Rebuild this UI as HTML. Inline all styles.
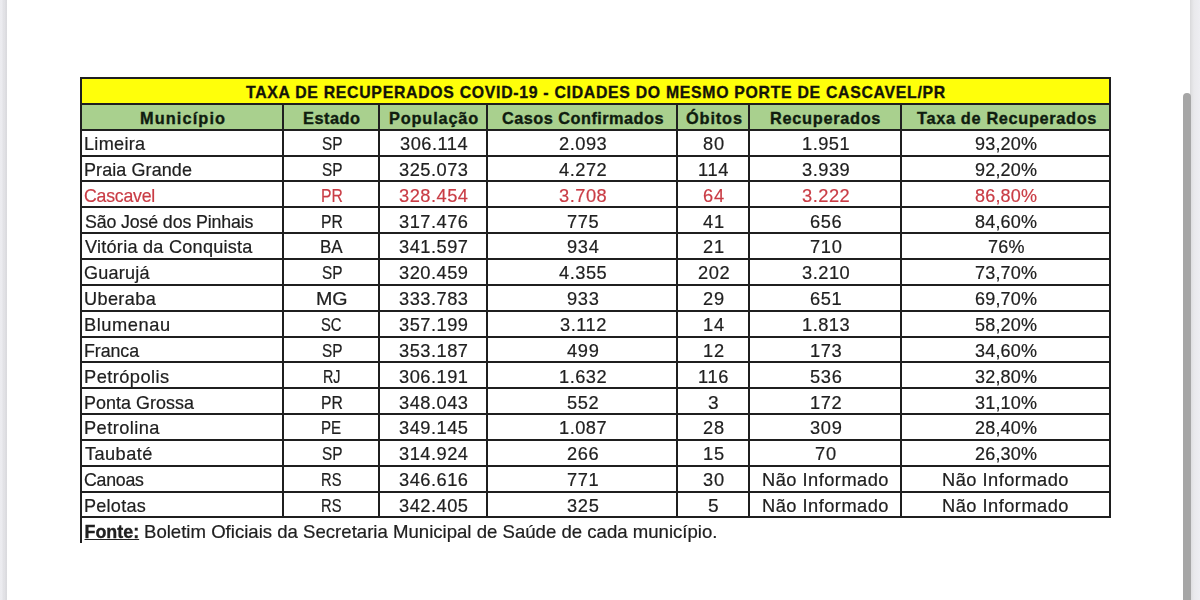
<!DOCTYPE html><html><head><meta charset="utf-8"><style>
html,body{margin:0;padding:0;width:1200px;height:600px;overflow:hidden;background:#ffffff;}
body{position:relative;font-family:"Liberation Sans",sans-serif;}
#w{position:absolute;left:0;top:0;width:1200px;height:600px;filter:blur(0.35px);}
.a{position:absolute;}
.l{position:absolute;background:#1f1f1f;}
.t{position:absolute;white-space:nowrap;font-size:17px;line-height:20px;height:20px;color:#202020;}
.c{transform-origin:50% 0;}
.t{-webkit-text-stroke:0.2px currentColor;}
.b{font-weight:bold;-webkit-text-stroke:0.35px currentColor;}
</style></head><body><div id="w">

<div class="a" style="left:0;top:0;width:7px;height:600px;background:linear-gradient(to right,#ececf0 0px,#ebebef 2px,#e3e3e7 3px,#e1e1e5 5px,#d9d9dd 6px,#dcdce0 7px)"></div>
<div class="a" style="left:1190px;top:0;width:10px;height:600px;background:linear-gradient(to right,#d9d9db 0px,#e2e2e4 2px,#e9e9ec 4px,#eeeef2 10px)"></div>
<div class="a" style="left:1182.5px;top:93px;width:8.5px;height:520px;background:#a6a6a6;border-radius:4.25px"></div>
<div class="a" style="left:81.0px;top:78.0px;width:1028.5px;height:25.9px;background:#ffff0a"></div>
<div class="a" style="left:81.0px;top:103.8px;width:1028.5px;height:25.9px;background:#a9d08e"></div>
<div class="l" style="left:80.0px;top:77.00px;width:1030.5px;height:2.0px"></div>
<div class="l" style="left:80.0px;top:102.85px;width:1030.5px;height:2.0px"></div>
<div class="l" style="left:80.0px;top:128.70px;width:1030.5px;height:2.0px"></div>
<div class="l" style="left:80.0px;top:154.55px;width:1030.5px;height:2.0px"></div>
<div class="l" style="left:80.0px;top:180.40px;width:1030.5px;height:2.0px"></div>
<div class="l" style="left:80.0px;top:206.25px;width:1030.5px;height:2.0px"></div>
<div class="l" style="left:80.0px;top:232.10px;width:1030.5px;height:2.0px"></div>
<div class="l" style="left:80.0px;top:257.95px;width:1030.5px;height:2.0px"></div>
<div class="l" style="left:80.0px;top:283.80px;width:1030.5px;height:2.0px"></div>
<div class="l" style="left:80.0px;top:309.65px;width:1030.5px;height:2.0px"></div>
<div class="l" style="left:80.0px;top:335.50px;width:1030.5px;height:2.0px"></div>
<div class="l" style="left:80.0px;top:361.35px;width:1030.5px;height:2.0px"></div>
<div class="l" style="left:80.0px;top:387.20px;width:1030.5px;height:2.0px"></div>
<div class="l" style="left:80.0px;top:413.05px;width:1030.5px;height:2.0px"></div>
<div class="l" style="left:80.0px;top:438.90px;width:1030.5px;height:2.0px"></div>
<div class="l" style="left:80.0px;top:464.75px;width:1030.5px;height:2.0px"></div>
<div class="l" style="left:80.0px;top:490.60px;width:1030.5px;height:2.0px"></div>
<div class="l" style="left:80.0px;top:516.45px;width:1030.5px;height:2.0px"></div>
<div class="l" style="left:80.0px;top:77.00px;width:2.0px;height:466.30px"></div>
<div class="l" style="left:1108.5px;top:77.00px;width:2.0px;height:441.45px"></div>
<div class="l" style="left:282.0px;top:103.85px;width:2.0px;height:413.60px"></div>
<div class="l" style="left:378.0px;top:103.85px;width:2.0px;height:413.60px"></div>
<div class="l" style="left:486.0px;top:103.85px;width:2.0px;height:413.60px"></div>
<div class="l" style="left:675.5px;top:103.85px;width:2.0px;height:413.60px"></div>
<div class="l" style="left:748.0px;top:103.85px;width:2.0px;height:413.60px"></div>
<div class="l" style="left:900.0px;top:103.85px;width:2.0px;height:413.60px"></div>
<div class="t b" style="left:246.14px;top:83.45px;transform-origin:0 0;transform:scaleX(0.9300);font-size:17.00px;letter-spacing:0.766px;color:#141408;">TAXA DE RECUPERADOS COVID-19 - CIDADES DO MESMO PORTE DE CASCAVEL/PR</div>
<div class="t b" style="left:140.09px;top:108.80px;transform-origin:0 0;transform:scaleX(0.9600);font-size:17.00px;letter-spacing:1.156px;color:#0f1c0f;">Município</div>
<div class="t b" style="left:303.09px;top:108.80px;transform-origin:0 0;transform:scaleX(0.9600);font-size:17.00px;letter-spacing:0.539px;color:#0f1c0f;">Estado</div>
<div class="t b" style="left:388.99px;top:108.80px;transform-origin:0 0;transform:scaleX(0.9600);font-size:17.00px;letter-spacing:0.874px;color:#0f1c0f;">População</div>
<div class="t b" style="left:501.80px;top:108.80px;transform-origin:0 0;transform:scaleX(0.9600);font-size:17.00px;letter-spacing:0.479px;color:#0f1c0f;">Casos Confirmados</div>
<div class="t b" style="left:685.55px;top:108.80px;transform-origin:0 0;transform:scaleX(0.9600);font-size:17.00px;letter-spacing:0.907px;color:#0f1c0f;">Óbitos</div>
<div class="t b" style="left:770.39px;top:108.80px;transform-origin:0 0;transform:scaleX(0.9600);font-size:17.00px;letter-spacing:0.732px;color:#0f1c0f;">Recuperados</div>
<div class="t b" style="left:916.64px;top:108.80px;transform-origin:0 0;transform:scaleX(0.9600);font-size:17.00px;letter-spacing:0.687px;color:#0f1c0f;">Taxa de Recuperados</div>
<div class="t" style="left:83.85px;top:134.05px;transform-origin:0 0;transform:scaleX(1.0127);font-size:17.90px;letter-spacing:0.279px;">Limeira</div>
<div class="t" style="left:321.61px;top:134.05px;transform-origin:0 0;transform:scaleX(0.8595);font-size:17.90px;letter-spacing:0.000px;">SP</div>
<div class="t" style="left:399.93px;top:134.05px;transform-origin:0 0;transform:scaleX(1.0201);font-size:17.90px;letter-spacing:0.476px;">306.114</div>
<div class="t" style="left:558.62px;top:134.05px;transform-origin:0 0;transform:scaleX(1.0201);font-size:17.90px;letter-spacing:0.496px;">2.093</div>
<div class="t" style="left:702.89px;top:134.05px;transform-origin:0 0;transform:scaleX(1.0201);font-size:17.90px;letter-spacing:0.848px;">80</div>
<div class="t" style="left:801.70px;top:134.05px;transform-origin:0 0;transform:scaleX(1.0201);font-size:17.90px;letter-spacing:0.490px;">1.951</div>
<div class="t" style="left:974.91px;top:134.05px;transform-origin:0 0;transform:scaleX(1.0067);font-size:17.90px;letter-spacing:0.184px;">93,20%</div>
<div class="t" style="left:83.86px;top:159.90px;transform-origin:0 0;transform:scaleX(1.0044);font-size:17.90px;letter-spacing:0.096px;">Praia Grande</div>
<div class="t" style="left:321.61px;top:159.90px;transform-origin:0 0;transform:scaleX(0.8595);font-size:17.90px;letter-spacing:0.000px;">SP</div>
<div class="t" style="left:399.31px;top:159.90px;transform-origin:0 0;transform:scaleX(1.0201);font-size:17.90px;letter-spacing:0.485px;">325.073</div>
<div class="t" style="left:558.98px;top:159.90px;transform-origin:0 0;transform:scaleX(1.0201);font-size:17.90px;letter-spacing:0.500px;">4.272</div>
<div class="t" style="left:697.95px;top:159.90px;transform-origin:0 0;transform:scaleX(1.0201);font-size:17.90px;letter-spacing:0.613px;">114</div>
<div class="t" style="left:802.01px;top:159.90px;transform-origin:0 0;transform:scaleX(1.0201);font-size:17.90px;letter-spacing:0.497px;">3.939</div>
<div class="t" style="left:974.91px;top:159.90px;transform-origin:0 0;transform:scaleX(1.0067);font-size:17.90px;letter-spacing:0.184px;">92,20%</div>
<div class="t" style="left:84.41px;top:185.75px;transform-origin:0 0;transform:scaleX(0.9903);font-size:17.90px;letter-spacing:-0.233px;color:#c93c45;">Cascavel</div>
<div class="t" style="left:320.64px;top:185.75px;transform-origin:0 0;transform:scaleX(0.8779);font-size:17.90px;letter-spacing:0.000px;color:#c93c45;">PR</div>
<div class="t" style="left:399.21px;top:185.75px;transform-origin:0 0;transform:scaleX(1.0201);font-size:17.90px;letter-spacing:0.487px;color:#c93c45;">328.454</div>
<div class="t" style="left:558.71px;top:185.75px;transform-origin:0 0;transform:scaleX(1.0201);font-size:17.90px;letter-spacing:0.498px;color:#c93c45;">3.708</div>
<div class="t" style="left:702.80px;top:185.75px;transform-origin:0 0;transform:scaleX(1.0201);font-size:17.90px;letter-spacing:0.848px;color:#c93c45;">64</div>
<div class="t" style="left:802.05px;top:185.75px;transform-origin:0 0;transform:scaleX(1.0201);font-size:17.90px;letter-spacing:0.496px;color:#c93c45;">3.222</div>
<div class="t" style="left:974.91px;top:185.75px;transform-origin:0 0;transform:scaleX(1.0067);font-size:17.90px;letter-spacing:0.184px;color:#c93c45;">86,80%</div>
<div class="t" style="left:84.50px;top:211.60px;transform-origin:0 0;transform:scaleX(0.9937);font-size:17.90px;letter-spacing:-0.133px;">São José dos Pinhais</div>
<div class="t" style="left:320.64px;top:211.60px;transform-origin:0 0;transform:scaleX(0.8779);font-size:17.90px;letter-spacing:0.000px;">PR</div>
<div class="t" style="left:399.31px;top:211.60px;transform-origin:0 0;transform:scaleX(1.0201);font-size:17.90px;letter-spacing:0.485px;">317.476</div>
<div class="t" style="left:566.60px;top:211.60px;transform-origin:0 0;transform:scaleX(1.0201);font-size:17.90px;letter-spacing:0.648px;">775</div>
<div class="t" style="left:703.21px;top:211.60px;transform-origin:0 0;transform:scaleX(1.0201);font-size:17.90px;letter-spacing:0.860px;">41</div>
<div class="t" style="left:809.85px;top:211.60px;transform-origin:0 0;transform:scaleX(1.0201);font-size:17.90px;letter-spacing:0.648px;">656</div>
<div class="t" style="left:974.91px;top:211.60px;transform-origin:0 0;transform:scaleX(1.0067);font-size:17.90px;letter-spacing:0.184px;">84,60%</div>
<div class="t" style="left:85.21px;top:237.45px;transform-origin:0 0;transform:scaleX(1.0124);font-size:17.90px;letter-spacing:0.242px;">Vitória da Conquista</div>
<div class="t" style="left:319.79px;top:237.45px;transform-origin:0 0;transform:scaleX(0.9520);font-size:17.90px;letter-spacing:0.000px;">BA</div>
<div class="t" style="left:399.41px;top:237.45px;transform-origin:0 0;transform:scaleX(1.0201);font-size:17.90px;letter-spacing:0.484px;">341.597</div>
<div class="t" style="left:566.54px;top:237.45px;transform-origin:0 0;transform:scaleX(1.0201);font-size:17.90px;letter-spacing:0.655px;">934</div>
<div class="t" style="left:702.94px;top:237.45px;transform-origin:0 0;transform:scaleX(1.0201);font-size:17.90px;letter-spacing:0.836px;">21</div>
<div class="t" style="left:809.80px;top:237.45px;transform-origin:0 0;transform:scaleX(1.0201);font-size:17.90px;letter-spacing:0.651px;">710</div>
<div class="t" style="left:987.63px;top:237.45px;transform-origin:0 0;transform:scaleX(1.0067);font-size:17.90px;letter-spacing:0.266px;">76%</div>
<div class="t" style="left:84.40px;top:263.30px;transform-origin:0 0;transform:scaleX(1.0084);font-size:17.90px;letter-spacing:0.204px;">Guarujá</div>
<div class="t" style="left:321.61px;top:263.30px;transform-origin:0 0;transform:scaleX(0.8595);font-size:17.90px;letter-spacing:0.000px;">SP</div>
<div class="t" style="left:399.36px;top:263.30px;transform-origin:0 0;transform:scaleX(1.0201);font-size:17.90px;letter-spacing:0.484px;">320.459</div>
<div class="t" style="left:558.88px;top:263.30px;transform-origin:0 0;transform:scaleX(1.0201);font-size:17.90px;letter-spacing:0.502px;">4.355</div>
<div class="t" style="left:697.69px;top:263.30px;transform-origin:0 0;transform:scaleX(1.0201);font-size:17.90px;letter-spacing:0.644px;">202</div>
<div class="t" style="left:801.91px;top:263.30px;transform-origin:0 0;transform:scaleX(1.0201);font-size:17.90px;letter-spacing:0.499px;">3.210</div>
<div class="t" style="left:974.86px;top:263.30px;transform-origin:0 0;transform:scaleX(1.0067);font-size:17.90px;letter-spacing:0.184px;">73,70%</div>
<div class="t" style="left:83.94px;top:289.15px;transform-origin:0 0;transform:scaleX(1.0138);font-size:17.90px;letter-spacing:0.356px;">Uberaba</div>
<div class="t" style="left:315.88px;top:289.15px;transform-origin:0 0;transform:scaleX(1.0982);font-size:17.90px;letter-spacing:0.000px;">MG</div>
<div class="t" style="left:399.31px;top:289.15px;transform-origin:0 0;transform:scaleX(1.0201);font-size:17.90px;letter-spacing:0.485px;">333.783</div>
<div class="t" style="left:566.64px;top:289.15px;transform-origin:0 0;transform:scaleX(1.0201);font-size:17.90px;letter-spacing:0.651px;">933</div>
<div class="t" style="left:702.94px;top:289.15px;transform-origin:0 0;transform:scaleX(1.0201);font-size:17.90px;letter-spacing:0.836px;">29</div>
<div class="t" style="left:809.89px;top:289.15px;transform-origin:0 0;transform:scaleX(1.0201);font-size:17.90px;letter-spacing:0.646px;">651</div>
<div class="t" style="left:974.86px;top:289.15px;transform-origin:0 0;transform:scaleX(1.0067);font-size:17.90px;letter-spacing:0.184px;">69,70%</div>
<div class="t" style="left:83.84px;top:315.00px;transform-origin:0 0;transform:scaleX(1.0210);font-size:17.90px;letter-spacing:0.533px;">Blumenau</div>
<div class="t" style="left:321.48px;top:315.00px;transform-origin:0 0;transform:scaleX(0.8262);font-size:17.90px;letter-spacing:0.000px;">SC</div>
<div class="t" style="left:399.36px;top:315.00px;transform-origin:0 0;transform:scaleX(1.0201);font-size:17.90px;letter-spacing:0.484px;">357.199</div>
<div class="t" style="left:559.52px;top:315.00px;transform-origin:0 0;transform:scaleX(1.0201);font-size:17.90px;letter-spacing:0.481px;">3.112</div>
<div class="t" style="left:702.58px;top:315.00px;transform-origin:0 0;transform:scaleX(1.0201);font-size:17.90px;letter-spacing:0.828px;">14</div>
<div class="t" style="left:801.65px;top:315.00px;transform-origin:0 0;transform:scaleX(1.0201);font-size:17.90px;letter-spacing:0.491px;">1.813</div>
<div class="t" style="left:974.95px;top:315.00px;transform-origin:0 0;transform:scaleX(1.0067);font-size:17.90px;letter-spacing:0.185px;">58,20%</div>
<div class="t" style="left:83.87px;top:340.85px;transform-origin:0 0;transform:scaleX(0.9965);font-size:17.90px;letter-spacing:-0.089px;">Franca</div>
<div class="t" style="left:321.61px;top:340.85px;transform-origin:0 0;transform:scaleX(0.8595);font-size:17.90px;letter-spacing:0.000px;">SP</div>
<div class="t" style="left:399.41px;top:340.85px;transform-origin:0 0;transform:scaleX(1.0201);font-size:17.90px;letter-spacing:0.484px;">353.187</div>
<div class="t" style="left:566.90px;top:340.85px;transform-origin:0 0;transform:scaleX(1.0201);font-size:17.90px;letter-spacing:0.659px;">499</div>
<div class="t" style="left:702.77px;top:340.85px;transform-origin:0 0;transform:scaleX(1.0201);font-size:17.90px;letter-spacing:0.811px;">12</div>
<div class="t" style="left:809.63px;top:340.85px;transform-origin:0 0;transform:scaleX(1.0201);font-size:17.90px;letter-spacing:0.638px;">173</div>
<div class="t" style="left:974.95px;top:340.85px;transform-origin:0 0;transform:scaleX(1.0067);font-size:17.90px;letter-spacing:0.185px;">34,60%</div>
<div class="t" style="left:83.84px;top:366.70px;transform-origin:0 0;transform:scaleX(1.0216);font-size:17.90px;letter-spacing:0.426px;">Petrópolis</div>
<div class="t" style="left:323.00px;top:366.70px;transform-origin:0 0;transform:scaleX(0.8026);font-size:17.90px;letter-spacing:0.000px;">RJ</div>
<div class="t" style="left:399.36px;top:366.70px;transform-origin:0 0;transform:scaleX(1.0201);font-size:17.90px;letter-spacing:0.484px;">306.191</div>
<div class="t" style="left:558.50px;top:366.70px;transform-origin:0 0;transform:scaleX(1.0201);font-size:17.90px;letter-spacing:0.489px;">1.632</div>
<div class="t" style="left:698.05px;top:366.70px;transform-origin:0 0;transform:scaleX(1.0201);font-size:17.90px;letter-spacing:0.609px;">116</div>
<div class="t" style="left:809.93px;top:366.70px;transform-origin:0 0;transform:scaleX(1.0201);font-size:17.90px;letter-spacing:0.653px;">536</div>
<div class="t" style="left:974.95px;top:366.70px;transform-origin:0 0;transform:scaleX(1.0067);font-size:17.90px;letter-spacing:0.185px;">32,80%</div>
<div class="t" style="left:83.87px;top:392.55px;transform-origin:0 0;transform:scaleX(1.0016);font-size:17.90px;letter-spacing:0.036px;">Ponta Grossa</div>
<div class="t" style="left:320.64px;top:392.55px;transform-origin:0 0;transform:scaleX(0.8779);font-size:17.90px;letter-spacing:0.000px;">PR</div>
<div class="t" style="left:399.31px;top:392.55px;transform-origin:0 0;transform:scaleX(1.0201);font-size:17.90px;letter-spacing:0.485px;">348.043</div>
<div class="t" style="left:566.78px;top:392.55px;transform-origin:0 0;transform:scaleX(1.0201);font-size:17.90px;letter-spacing:0.648px;">552</div>
<div class="t" style="left:708.25px;top:392.55px;transform-origin:0 0;transform:scaleX(1.0670);font-size:17.90px;letter-spacing:0.000px;">3</div>
<div class="t" style="left:809.72px;top:392.55px;transform-origin:0 0;transform:scaleX(1.0201);font-size:17.90px;letter-spacing:0.634px;">172</div>
<div class="t" style="left:974.95px;top:392.55px;transform-origin:0 0;transform:scaleX(1.0067);font-size:17.90px;letter-spacing:0.185px;">31,10%</div>
<div class="t" style="left:83.84px;top:418.40px;transform-origin:0 0;transform:scaleX(1.0209);font-size:17.90px;letter-spacing:0.413px;">Petrolina</div>
<div class="t" style="left:321.44px;top:418.40px;transform-origin:0 0;transform:scaleX(0.8449);font-size:17.90px;letter-spacing:0.000px;">PE</div>
<div class="t" style="left:399.31px;top:418.40px;transform-origin:0 0;transform:scaleX(1.0201);font-size:17.90px;letter-spacing:0.485px;">349.145</div>
<div class="t" style="left:558.50px;top:418.40px;transform-origin:0 0;transform:scaleX(1.0201);font-size:17.90px;letter-spacing:0.489px;">1.087</div>
<div class="t" style="left:702.90px;top:418.40px;transform-origin:0 0;transform:scaleX(1.0201);font-size:17.90px;letter-spacing:0.840px;">28</div>
<div class="t" style="left:809.98px;top:418.40px;transform-origin:0 0;transform:scaleX(1.0201);font-size:17.90px;letter-spacing:0.651px;">309</div>
<div class="t" style="left:974.86px;top:418.40px;transform-origin:0 0;transform:scaleX(1.0067);font-size:17.90px;letter-spacing:0.184px;">28,40%</div>
<div class="t" style="left:84.94px;top:444.25px;transform-origin:0 0;transform:scaleX(1.0175);font-size:17.90px;letter-spacing:0.417px;">Taubaté</div>
<div class="t" style="left:321.61px;top:444.25px;transform-origin:0 0;transform:scaleX(0.8595);font-size:17.90px;letter-spacing:0.000px;">SP</div>
<div class="t" style="left:399.21px;top:444.25px;transform-origin:0 0;transform:scaleX(1.0201);font-size:17.90px;letter-spacing:0.487px;">314.924</div>
<div class="t" style="left:566.60px;top:444.25px;transform-origin:0 0;transform:scaleX(1.0201);font-size:17.90px;letter-spacing:0.648px;">266</div>
<div class="t" style="left:702.68px;top:444.25px;transform-origin:0 0;transform:scaleX(1.0201);font-size:17.90px;letter-spacing:0.819px;">15</div>
<div class="t" style="left:815.10px;top:444.25px;transform-origin:0 0;transform:scaleX(1.0201);font-size:17.90px;letter-spacing:0.844px;">70</div>
<div class="t" style="left:974.86px;top:444.25px;transform-origin:0 0;transform:scaleX(1.0067);font-size:17.90px;letter-spacing:0.184px;">26,30%</div>
<div class="t" style="left:84.41px;top:470.10px;transform-origin:0 0;transform:scaleX(0.9913);font-size:17.90px;letter-spacing:-0.246px;">Canoas</div>
<div class="t" style="left:321.32px;top:470.10px;transform-origin:0 0;transform:scaleX(0.8247);font-size:17.90px;letter-spacing:0.000px;">RS</div>
<div class="t" style="left:399.31px;top:470.10px;transform-origin:0 0;transform:scaleX(1.0201);font-size:17.90px;letter-spacing:0.485px;">346.616</div>
<div class="t" style="left:566.64px;top:470.10px;transform-origin:0 0;transform:scaleX(1.0201);font-size:17.90px;letter-spacing:0.646px;">771</div>
<div class="t" style="left:702.94px;top:470.10px;transform-origin:0 0;transform:scaleX(1.0201);font-size:17.90px;letter-spacing:0.852px;">30</div>
<div class="t" style="left:762.15px;top:470.10px;transform-origin:0 0;transform:scaleX(1.0209);font-size:17.90px;letter-spacing:0.464px;">Não Informado</div>
<div class="t" style="left:942.40px;top:470.10px;transform-origin:0 0;transform:scaleX(1.0209);font-size:17.90px;letter-spacing:0.464px;">Não Informado</div>
<div class="t" style="left:83.85px;top:495.95px;transform-origin:0 0;transform:scaleX(1.0107);font-size:17.90px;letter-spacing:0.238px;">Pelotas</div>
<div class="t" style="left:321.32px;top:495.95px;transform-origin:0 0;transform:scaleX(0.8247);font-size:17.90px;letter-spacing:0.000px;">RS</div>
<div class="t" style="left:399.31px;top:495.95px;transform-origin:0 0;transform:scaleX(1.0201);font-size:17.90px;letter-spacing:0.485px;">342.405</div>
<div class="t" style="left:566.68px;top:495.95px;transform-origin:0 0;transform:scaleX(1.0201);font-size:17.90px;letter-spacing:0.653px;">325</div>
<div class="t" style="left:708.25px;top:495.95px;transform-origin:0 0;transform:scaleX(1.0670);font-size:17.90px;letter-spacing:0.000px;">5</div>
<div class="t" style="left:762.15px;top:495.95px;transform-origin:0 0;transform:scaleX(1.0209);font-size:17.90px;letter-spacing:0.464px;">Não Informado</div>
<div class="t" style="left:942.40px;top:495.95px;transform-origin:0 0;transform:scaleX(1.0209);font-size:17.90px;letter-spacing:0.464px;">Não Informado</div>
<div class="t" style="left:84.5px;top:522.40px;font-size:17.90px;transform-origin:0 0;"><span class="b" style="text-decoration:underline;">Fonte:</span> <span style="display:inline-block;transform-origin:0 0;transform:scaleX(1.039)">Boletim Oficiais da Secretaria Municipal de Saúde de cada município.</span></div>
</div></body></html>
